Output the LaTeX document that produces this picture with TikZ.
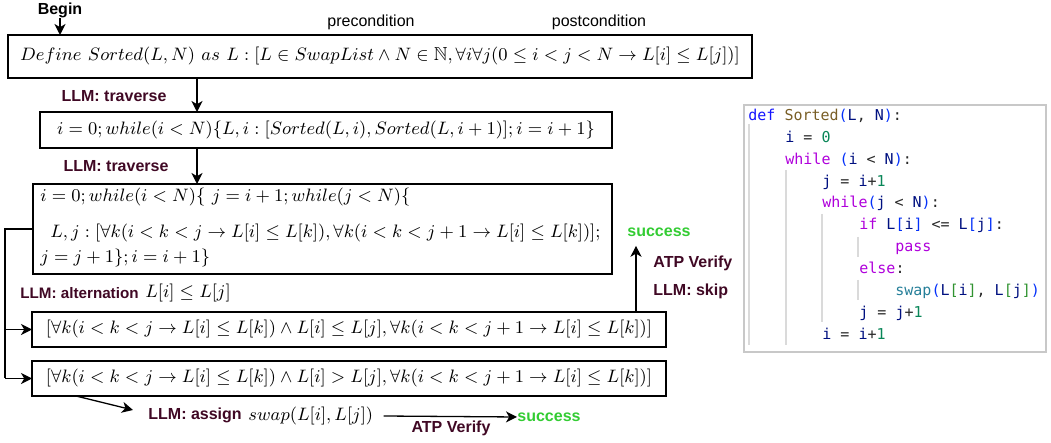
\documentclass[tikz,border=0pt]{standalone}
\usepackage{amsmath,amssymb}
\usepackage{fontspec}
\setsansfont{Liberation Sans}
\newfontfamily\codefont{DejaVu Sans Mono}
\usetikzlibrary{arrows.meta}
\definecolor{llmred}{RGB}{64,8,36}
\definecolor{okgreen}{RGB}{51,204,51}
\definecolor{kwc}{RGB}{175,0,219}
\definecolor{defc}{RGB}{20,20,255}
\definecolor{fnc}{RGB}{121,94,38}
\definecolor{varc}{RGB}{0,16,128}
\definecolor{numc}{RGB}{9,134,88}
\definecolor{bra}{RGB}{4,49,250}
\definecolor{brb}{RGB}{49,147,49}
\definecolor{clsc}{RGB}{38,127,153}
\definecolor{opc}{RGB}{40,40,40}
\definecolor{panelc}{RGB}{200,200,200}
\definecolor{guidec}{RGB}{218,218,218}
\newcommand\cKW[1]{{\color{kwc}#1}}
\newcommand\cDF[1]{{\color{defc}#1}}
\newcommand\cFN[1]{{\color{fnc}#1}}
\newcommand\cVR[1]{{\color{varc}#1}}
\newcommand\cNM[1]{{\color{numc}#1}}
\newcommand\cBA[1]{{\color{bra}#1}}
\newcommand\cBB[1]{{\color{brb}#1}}
\newcommand\cCL[1]{{\color{clsc}#1}}
\tikzset{
  mathsz/.style={font=\fontsize{9.4}{11}\selectfont},
  box/.style={draw, line width=0.65pt, fill=white, inner sep=0pt, outer sep=0pt, mathsz},
  lbl/.style={font=\sffamily\bfseries\fontsize{8}{9.6}\selectfont, text=llmred, inner sep=0pt},
  plain/.style={font=\sffamily\fontsize{8}{9.6}\selectfont, inner sep=0pt},
  ok/.style={font=\sffamily\bfseries\fontsize{8}{9.6}\selectfont, text=okgreen, inner sep=0pt},
  arr/.style={-{Stealth[length=5.5pt,width=5.5pt,inset=1.6pt]}, line width=0.65pt},
  wire/.style={line width=0.65pt},
  code/.style={font=\codefont\fontsize{7.5}{9}\selectfont, text=opc, anchor=base west, inner sep=0pt},
  guide/.style={draw=guidec, line width=0.7pt},
  mtext/.style={inner sep=0pt, anchor=base west, mathsz}
}
\begin{document}
\begin{tikzpicture}[x=0.5pt,y=-0.5pt]
\useasboundingbox (0,0) rectangle (1051,443);
% helper columns
\coordinate (xt) at (197,0);
\coordinate (xf) at (5,0);
\coordinate (xs) at (636,0);
\coordinate (xa) at (76,0);
% top labels
\node[plain, font=\sffamily\bfseries\fontsize{8}{9.6}\selectfont] (begin) at (60,10) {Begin};
\node[plain] (pre) at (371,22) {precondition};
\node[plain] (post) at (599,22) {postcondition};
% boxes
\node[box, minimum width=372pt, minimum height=21.5pt] (b1) at (380,56.5)
  {$Define\ Sorted(L,N)\ as\ L:[L\in SwapList\wedge N\in\mathbb{N},\forall i\forall j(0\le i<j<N\rightarrow L[i]\le L[j])]$};
\node[box, minimum width=286pt, minimum height=18pt] (b2) at (326,130)
  {$i=0;while(i<N)\{L,i:[Sorted(L,i),Sorted(L,i+1)];i=i+1\}$};
\node[box, minimum width=289.5pt, minimum height=45pt] (b3) at (322.5,229) {};
\node[mtext] (b3l1) at (40,202) {$i=0;while(i<N)\{\ j=i+1;while(j<N)\{$};
\node[mtext] (b3l2) at (50,238) {$L,j:[\forall k(i<k<j\rightarrow L[i]\le L[k]),\forall k(i<k<j+1\rightarrow L[i]\le L[k])];$};
\node[mtext] (b3l3) at (40,263) {$j=j+1\};i=i+1\}$};
\node[box, minimum width=317pt, minimum height=17.5pt] (b4) at (349,329.5)
  {$[\forall k(i<k<j\rightarrow L[i]\le L[k])\wedge L[i]\le L[j],\forall k(i<k<j+1\rightarrow L[i]\le L[k])]$};
\node[box, minimum width=317pt, minimum height=17.5pt] (b5) at (349,378.5)
  {$[\forall k(i<k<j\rightarrow L[i]\le L[k])\wedge L[i]> L[j],\forall k(i<k<j+1\rightarrow L[i]\le L[k])]$};
% labels
\node[lbl] (trav1) at (114,96) {LLM: traverse};
\node[lbl] (trav2) at (116,166) {LLM: traverse};
\node[lbl, anchor=west, font=\sffamily\bfseries\fontsize{7.6}{9}\selectfont] (alt) at (20,293) {LLM: alternation};
\node[inner sep=0pt, anchor=west, mathsz] (altm) at (145,293) {$L[i]\le L[j]$};
\node[ok, inner ysep=4.5pt] (s1) at (659,232) {success};
\node[lbl, anchor=west] (atp1) at (653,263) {ATP Verify};
\node[lbl, anchor=west] (skip) at (653,291) {LLM: skip};
\node[lbl, anchor=west] (assign) at (148,415) {LLM: assign};
\node[inner sep=0pt, anchor=west, mathsz] (swapm) at (248,416) {$swap(L[i],L[j])$};
\node[ok, anchor=west] (s2) at (517,417) {success};
\node[lbl] (atp2) at (451,428) {ATP Verify};
% connectors
\draw[arr] (begin.south) -- (b1.north -| begin);
\draw[arr] (b1.south -| xt) -- (b2.north -| xt);
\draw[arr] (b2.south -| xt) -- (b3.north -| xt);
\draw[wire] (b3.west) -- (b3.west -| xf) -- (b5.west -| xf);
\draw[arr] (b4.west -| xf) -- (b4.west);
\draw[arr] (b5.west -| xf) -- (b5.west);
\draw[arr] (b4.north -| xs) -- (s1.south -| xs);
\draw[arr] (b5.south -| xa) -- ([shift={(-15,-5)}]assign.west);
\draw[arr] ([xshift=5pt]swapm.east) -- (s2.west);
% code panel
\node[draw=panelc, line width=0.6pt, inner sep=0pt, minimum width=151pt, minimum height=123.5pt] (panel) at (895,228.5) {};
\draw[guide] (749,124) -- (749,345);
\draw[guide] (786,170) -- (786,345);
\draw[guide] (822,214) -- (822,322);
\draw[guide] (858,237) -- (858,257);
\draw[guide] (858,280) -- (858,300);
\node[code] (c1) at (748,121) {\cDF{def} \cFN{Sorted}\cBA{(}\cVR{L}, \cVR{N}\cBA{)}:};
\node[code] (c2) at (785,143) {\cVR{i} = \cNM{0}};
\node[code] (c3) at (785,165) {\cKW{while} \cBA{(}\cVR{i} < \cVR{N}\cBA{)}:};
\node[code] (c4) at (822,187) {\cVR{j} = \cVR{i}+\cNM{1}};
\node[code] (c5) at (822,208) {\cKW{while}\cBA{(}\cVR{j} < \cVR{N}\cBA{)}:};
\node[code] (c6) at (859,230) {\cKW{if} \cVR{L}\cBA{[}\cVR{i}\cBA{]} <= \cVR{L}\cBA{[}\cVR{j}\cBA{]}:};
\node[code] (c7) at (895,252) {\cKW{pass}};
\node[code] (c8) at (859,274) {\cKW{else}:};
\node[code] (c9) at (895,296) {\cCL{swap}\cBA{(}\cVR{L}\cBB{[}\cVR{i}\cBB{]}, \cVR{L}\cBB{[}\cVR{j}\cBB{]}\cBA{)}};
\node[code] (c10) at (859,318) {\cVR{j} = \cVR{j}+\cNM{1}};
\node[code] (c11) at (822,340) {\cVR{i} = \cVR{i}+\cNM{1}};
\end{tikzpicture}
\end{document}
